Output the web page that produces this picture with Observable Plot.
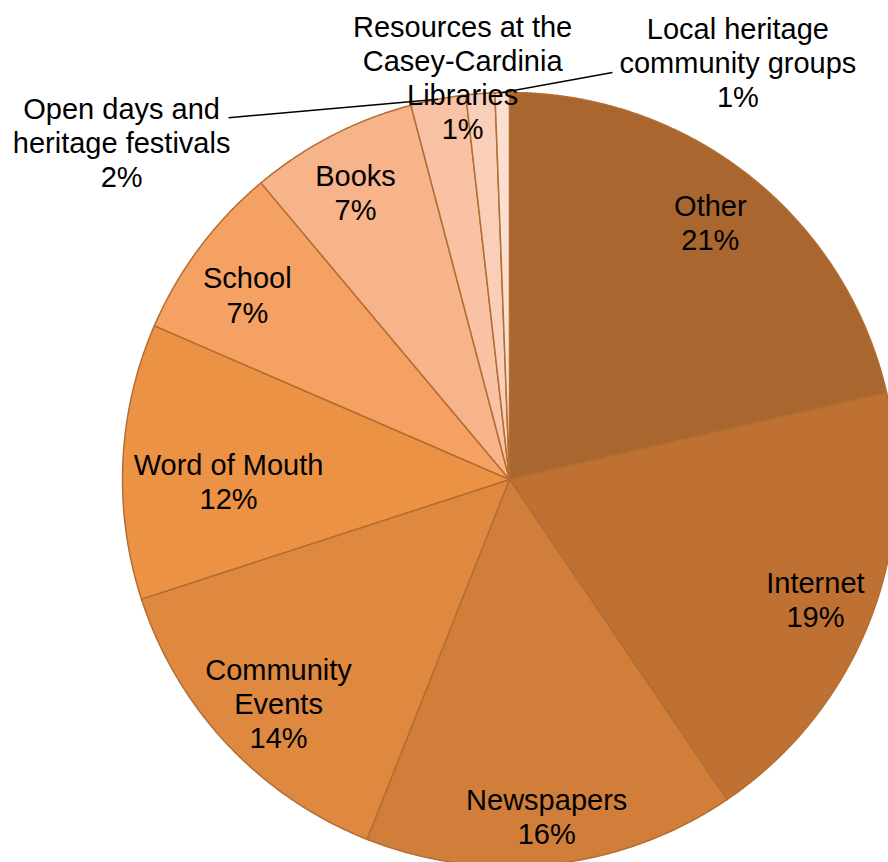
<!DOCTYPE html>
<html><head><meta charset="utf-8">
<script src="https://cdn.jsdelivr.net/npm/d3@7"></script>
<script src="https://cdn.jsdelivr.net/npm/@observablehq/plot@0.6"></script>
<style>html,body{margin:0;padding:0;background:#fff;overflow:hidden}</style>
</head><body><div id="chart"></div>
<script>
// ---- data ----
const categories = ["Other", "Internet", "Newspapers", "Community\nEvents", "Word of Mouth", "School", "Books",
  "Open days and\nheritage festivals", "Resources at the\nCasey-Cardinia\nLibraries", "Local heritage\ncommunity groups"];
const values = [21.4, 19.1, 15.5, 14.0, 11.5, 7.4, 7.0, 2.3, 1.2, 0.6];

// ---- style / layout ----
const sliceColors = ["#A9672F", "#BE7133", "#D07E3A", "#DE8840", "#EC9244", "#F4A163", "#F7B38A", "#F9C2A5", "#FACFBA", "#FCDFD0"];
const W = 888, H = 862, CX = 509, CY = 479, R = 387;
// label placement: angle (degrees clockwise from 12 o'clock) and radius as a fraction of the pie radius
const labelPlacement = [{angle: 38.0, r: 0.843}, {angle: 111.4, r: 0.849}, {angle: 173.7, r: 0.876}, {angle: 225.9, r: 0.831},
  {angle: 269.6, r: 0.726}, {angle: 305.2, r: 0.829}, {angle: 331.8, r: 0.842},
  {angle: 311, r: 1.328}, {angle: 353.35, r: 1.046}, {angle: 28.7, r: 1.229}];
const leaderStarts = [{i: 7, u: -0.726, v: 0.935}, {i: 9, u: 0.266, v: 1.0517}];

// ---- geometry from data ----
const arcs = d3.pie().sort(null).value(d => d)(values);
const slicePts = [];
arcs.forEach((a, i) => {
  const name = categories[i];
  slicePts.push({name, u: 0, v: 0});
  const n = Math.max(2, Math.ceil((a.endAngle - a.startAngle) / (Math.PI / 720)));
  for (let k = 0; k <= n; k++) {
    const t = a.startAngle + (a.endAngle - a.startAngle) * k / n;
    slicePts.push({name, u: Math.sin(t), v: Math.cos(t)});
  }
  slicePts.push({name, u: 0, v: 0});
});
const labels = arcs.map((a, i) => {
  const p = labelPlacement[i];
  const t = p.angle != null ? p.angle * Math.PI / 180 : (a.startAngle + a.endAngle) / 2;
  return {u: p.r * Math.sin(t), v: p.r * Math.cos(t), text: `${categories[i]}\n${Math.round(values[i])}%`};
});
const leaders = leaderStarts.map(s => {
  const a = arcs[s.i], t = (a.startAngle + a.endAngle) / 2;
  return {u1: s.u, v1: s.v, u2: Math.sin(t), v2: Math.cos(t)};
});

const chart = Plot.plot({
  width: W, height: H, margin: 0,
  x: {domain: [-CX / R, (W - CX) / R], axis: null},
  y: {domain: [-(H - CY) / R, CY / R], axis: null},
  color: {domain: categories, range: sliceColors},
  style: {background: "#fff"},
  marks: [
    Plot.line(slicePts, {x: "u", y: "v", z: "name", fill: "name", stroke: "#B36E31", strokeWidth: 1.5, strokeLinejoin: "round", clip: true}),
    Plot.link(leaders, {x1: "u1", y1: "v1", x2: "u2", y2: "v2", stroke: "#000", strokeWidth: 1.5}),
    Plot.text(labels, {x: "u", y: "v", text: "text", fontSize: 29, fontFamily: "Liberation Sans, Arial, sans-serif", fill: "#000", lineHeight: 1.175})
  ]
});
document.getElementById("chart").appendChild(chart);
</script></body></html>
